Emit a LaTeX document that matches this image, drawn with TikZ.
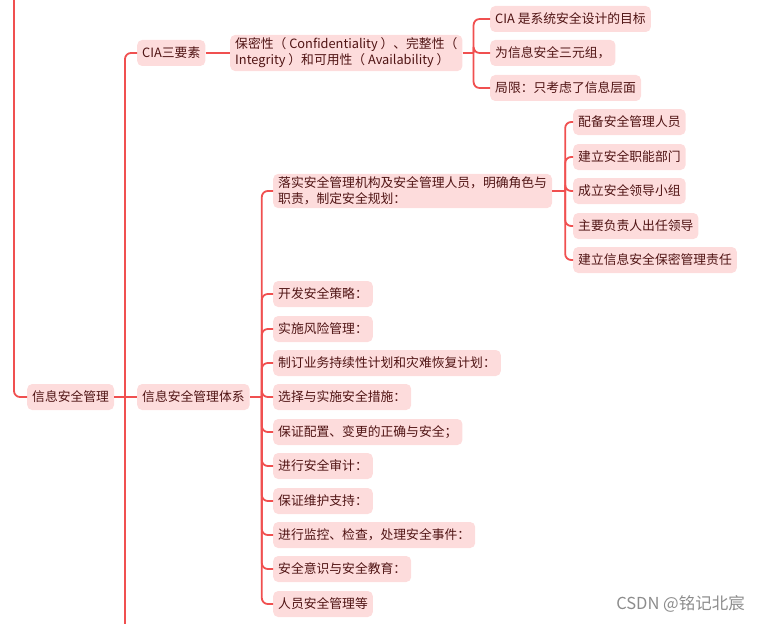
\documentclass[tikz,border=0pt]{standalone}
\usepackage{fontspec}
\setmainfont{Noto Sans CJK SC}
\usepackage{xcolor}
\usepackage{tikz}
\usetikzlibrary{positioning}
\definecolor{mmline}{RGB}{240,80,80}
\definecolor{mmfill}{RGB}{253,220,220}
\definecolor{mmtext}{RGB}{80,20,20}
\definecolor{mmgray}{RGB}{140,140,140}
\tikzset{
  topic/.style={
    fill=mmfill, text=mmtext, rounded corners=5pt, anchor=west,
    inner xsep=5pt, inner ysep=3pt, minimum height=26pt, align=left,
    font=\fontsize{12.8}{16}\selectfont
  },
  link/.style={draw=mmline, line width=1.8pt, rounded corners=6pt},
  wmark/.style={text=mmgray, anchor=east, inner sep=0pt, font=\fontsize{16.5}{18}\selectfont}
}

\begin{document}
\begin{tikzpicture}[x=1pt, y=-1pt]
  \useasboundingbox (0,0) rectangle (759,623);
  \clip (0,0) rectangle (759,623);
  % centre and main branches
  \node[topic] (root) at (27,397) {信息安全管理};
  \node[topic] (cia) at (137,53) {CIA三要素};
  \node[topic] (sys) at (137,397) {信息安全管理体系};
  \coordinate (up) at (14,-10);
  \coordinate (down) at (125,640);
  % CIA
  \node[topic] (cdef) at (230,53)
    {保密性（ Confidentiality ）、完整性（\\Integrity ）和可用性（ Availability ）};
  \node[topic] (c1) at (490,19) {CIA 是系统安全设计的目标};
  \node[topic] (c2) at (490,53) {为信息安全三元组，};
  \node[topic] (c3) at (490,88) {局限：只考虑了信息层面};
  % system
  \node[topic] (s1) at (273,191)
    {落实安全管理机构及安全管理人员，明确角色与\\职责，制定安全规划：};
  \node[topic] (s1a) at (573,122) {配备安全管理人员};
  \node[topic] (s1b) at (573,157) {建立安全职能部门};
  \node[topic] (s1c) at (573,191) {成立安全领导小组};
  \node[topic] (s1d) at (573,226) {主要负责人出任领导};
  \node[topic] (s1e) at (573,260) {建立信息安全保密管理责任};
  \node[topic] (s2) at (273,294) {开发安全策略：};
  \node[topic] (s3) at (273,329) {实施风险管理：};
  \node[topic] (s4) at (273,363) {制订业务持续性计划和灾难恢复计划：};
  \node[topic] (s5) at (273,397) {选择与实施安全措施：};
  \node[topic] (s6) at (273,432) {保证配置、变更的正确与安全；};
  \node[topic] (s7) at (273,466) {进行安全审计：};
  \node[topic] (s8) at (273,501) {保证维护支持：};
  \node[topic] (s9) at (273,535) {进行监控、检查，处理安全事件：};
  \node[topic] (s10) at (273,569) {安全意识与安全教育：};
  \node[topic] (s11) at (273,604) {人员安全管理等};
  \node[wmark] (csdn) at (745,604) {CSDN @铭记北宸};
  % junctions on the trunks
  \coordinate (cj) at ([xshift=11pt]cdef.east);
  \coordinate (s1j) at ([xshift=13pt]s1.east);
  \coordinate (sysj) at ([xshift=12pt]sys.east);
  % connectors
  \draw[link] (up) |- (root.west);
  \draw[link] (root.east) -- (sys.west);
  \draw[link] (cia.west) -| (down);
  \draw[link] (cia.east) -- (cdef.west);
  \draw[link] (cdef.east) -- (cj);
  \foreach \n in {c1,c2,c3}
    \draw[link] (cj) |- (\n.west);
  \draw[link] (s1.east) -- (s1j);
  \foreach \n in {s1a,s1b,s1c,s1d,s1e}
    \draw[link] (s1j) |- (\n.west);
  \draw[link] (sys.east) -- (sysj);
  \foreach \n in {s1,s2,s3,s4,s5,s6,s7,s8,s9,s10,s11}
    \draw[link] (sysj) |- (\n.west);
\end{tikzpicture}
\end{document}
